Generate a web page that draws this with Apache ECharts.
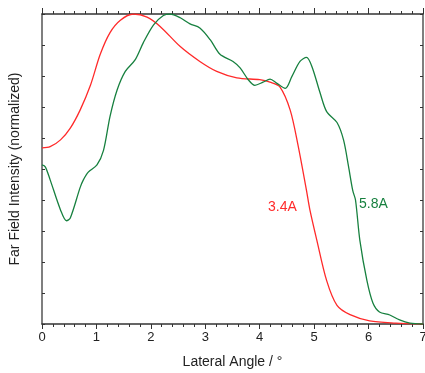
<!DOCTYPE html>
<html>
<head>
<meta charset="utf-8">
<script src="https://cdn.jsdelivr.net/npm/echarts@6/dist/echarts.min.js"></script>
<style>
  html, body { margin: 0; padding: 0; background: #fff; }
  #chart { width: 425px; height: 373px; }
</style>
</head>
<body>
<div id="chart"></div>
<script>
// far field profiles: [lateral angle, normalized intensity]
const red34 = [
  [0, 0.568], [0.15, 0.572], [0.34, 0.594], [0.52, 0.632], [0.70, 0.69],
  [0.89, 0.77], [1.07, 0.87], [1.25, 0.94], [1.44, 0.98], [1.68, 1.0],
  [1.93, 0.99], [2.17, 0.96], [2.54, 0.895], [2.9, 0.847], [3.21, 0.815],
  [3.58, 0.794], [4.0, 0.788], [4.19, 0.78], [4.37, 0.765], [4.56, 0.69],
  [4.70, 0.58], [4.86, 0.43], [4.92, 0.37], [5.05, 0.27], [5.23, 0.14],
  [5.42, 0.06], [5.66, 0.03], [6.02, 0.01], [6.5, 0.003], [7, 0]
];
const green58 = [
  [0, 0.513], [0.06, 0.507], [0.15, 0.465], [0.34, 0.368], [0.45, 0.333],
  [0.52, 0.342], [0.70, 0.44], [0.76, 0.465], [0.85, 0.49], [1.01, 0.513],
  [1.13, 0.56], [1.25, 0.67], [1.38, 0.755], [1.53, 0.815], [1.71, 0.852],
  [1.86, 0.907], [2.05, 0.965], [2.23, 0.995], [2.35, 1.0], [2.54, 0.988],
  [2.72, 0.968], [2.90, 0.955], [3.09, 0.917], [3.27, 0.87], [3.51, 0.847],
  [3.64, 0.826], [3.79, 0.788], [3.91, 0.77], [4.06, 0.78], [4.19, 0.79],
  [4.31, 0.777], [4.47, 0.76], [4.59, 0.798], [4.74, 0.847], [4.86, 0.86],
  [4.96, 0.83], [5.11, 0.745], [5.23, 0.685], [5.42, 0.65], [5.54, 0.594],
  [5.63, 0.51], [5.71, 0.43], [5.76, 0.40], [5.84, 0.27], [5.97, 0.14],
  [6.08, 0.068], [6.2, 0.039], [6.39, 0.029], [6.57, 0.013], [6.76, 0.003], [7, 0]
];
const seriesNames = ['3.4A', '5.8A'];

const font = 'Liberation Sans, Arial, sans-serif';
const axisCol = '#333';

const chart = echarts.init(document.getElementById('chart'));

const xCommon = {
  type: 'value', min: 0, max: 7, interval: 1,
  axisLine: {show: true, onZero: false, lineStyle: {color: axisCol, width: 1.5}},
  splitLine: {show: false},
  minorTick: {show: true, splitNumber: 5, length: 3, lineStyle: {color: axisCol}},
  minorSplitLine: {show: false}
};
const yCommon = {
  type: 'value', min: 0, max: 1, interval: 0.1,
  axisLine: {show: true, onZero: false, lineStyle: {color: '#555', width: 1.5}},
  axisTick: {show: true, inside: true, length: 3, lineStyle: {color: axisCol}},
  axisLabel: {show: false},
  splitLine: {show: false}
};

chart.setOption({
  animation: false,
  grid: {left: 42, right: 2, top: 14, bottom: 49, outerBoundsMode: 'none', containLabel: false},
  xAxis: [
    Object.assign({}, xCommon, {
      position: 'bottom',
      name: 'Lateral Angle / °',
      nameLocation: 'middle',
      nameGap: 31,
      nameTextStyle: {fontFamily: font, fontSize: 14, color: '#222'},
      axisTick: {show: true, length: 5, lineStyle: {color: axisCol}},
      axisLabel: {fontFamily: font, fontSize: 13, color: '#222', margin: 7}
    }),
    Object.assign({}, xCommon, {
      position: 'top',
      axisTick: {show: true, length: 6, lineStyle: {color: axisCol}},
      axisLabel: {show: false}
    })
  ],
  yAxis: [
    Object.assign({}, yCommon, {
      position: 'left',
      name: 'Far Field Intensity (normalized)',
      nameLocation: 'middle',
      nameGap: 20,
      nameRotate: 90,
      nameTextStyle: {fontFamily: font, fontSize: 14, color: '#222'}
    }),
    Object.assign({}, yCommon, {position: 'right'})
  ],
  series: [
    {
      name: seriesNames[0], type: 'line', data: red34, smooth: 0.3,
      showSymbol: false, lineStyle: {color: '#ff2a2a', width: 1.3}
    },
    {
      name: seriesNames[1], type: 'line', data: green58, smooth: 0.3,
      showSymbol: false, lineStyle: {color: '#17803f', width: 1.3}
    }
  ],
  graphic: [
    {type: 'text', left: 268, top: 200,
     style: {text: seriesNames[0], fill: '#ff2a2a', font: '14px ' + font}},
    {type: 'text', left: 359, top: 197,
     style: {text: seriesNames[1], fill: '#17803f', font: '14px ' + font}}
  ]
});
</script>
</body>
</html>
